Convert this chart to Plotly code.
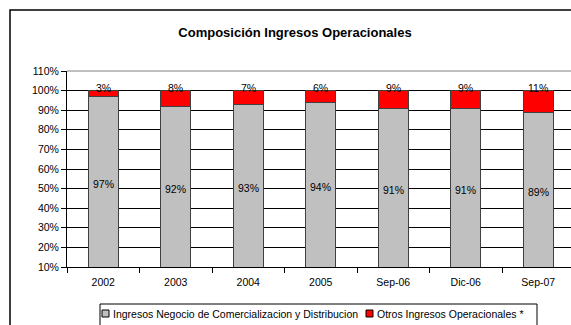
import plotly.graph_objects as go

categories = ["2002", "2003", "2004", "2005", "Sep-06", "Dic-06", "Sep-07"]
negocio = [97, 92, 93, 94, 91, 91, 89]
otros = [3, 8, 7, 6, 9, 9, 11]
y_ticks = list(range(10, 111, 10))

series_names = ["Ingresos Negocio de Comercializacion y Distribucion",
                "Otros Ingresos Operacionales *"]
series_colors = ["#C0C0C0", "#FF0000"]

Y_MIN, Y_MAX = 10, 110
W, H = 571, 325
L, R, T, B = 67, 0, 71, 58
plot_w = W - L - R
plot_h = H - T - B
font = "Liberation Sans, Arial, sans-serif"
fs = 10.5
edge = "#404040"


def px_x(px):
    return (px - L) / plot_w


def px_y(py):
    return (H - B - py) / plot_h


fig = go.Figure()
for vals, name, col in zip([negocio, otros], series_names, series_colors):
    fig.add_trace(go.Bar(
        x=categories, y=vals, name=name, showlegend=False,
        marker=dict(color=col, line=dict(color=edge, width=1)),
        width=0.41,
    ))

# value labels: grey share centred in the visible part of its bar, red share at the bar top
for i, (g, o) in enumerate(zip(negocio, otros)):
    fig.add_annotation(x=i, y=(Y_MIN + g) / 2, text=f"{g}%", showarrow=False,
                       font=dict(size=fs, color="black", family=font), yanchor="middle", yshift=-2)
    fig.add_annotation(x=i, y=g + o, text=f"{o}%", showarrow=False,
                       font=dict(size=fs, color="black", family=font), yanchor="middle", yshift=3)

# outer chart frame
fig.add_shape(type="rect", xref="paper", yref="paper",
              x0=px_x(10), x1=1.5, y0=-1.0, y1=px_y(10),
              line=dict(color="black", width=1.5), fillcolor="rgba(0,0,0,0)", layer="below")

# legend box with small square keys
fig.add_shape(type="rect", xref="paper", yref="paper",
              x0=px_x(100), x1=px_x(537), y0=px_y(340), y1=px_y(304),
              line=dict(color="black", width=1), fillcolor="white")
key_x = [102, 366]
for kx, name, col in zip(key_x, series_names, series_colors):
    fig.add_shape(type="rect", xref="paper", yref="paper",
                  x0=px_x(kx), x1=px_x(kx + 7), y0=px_y(317), y1=px_y(310),
                  line=dict(color="black", width=1), fillcolor=col)
    fig.add_annotation(xref="paper", yref="paper", x=px_x(kx + 9), y=px_y(313.5),
                       text=name, showarrow=False, xanchor="left", yanchor="middle",
                       font=dict(size=fs, color="black", family=font))

fig.update_layout(
    width=W, height=H,
    margin=dict(l=L, r=R, t=T, b=B),
    barmode="stack",
    paper_bgcolor="white", plot_bgcolor="white",
    font=dict(family=font, size=fs, color="black"),
    title=dict(text="<b>Composición Ingresos Operacionales</b>",
               x=295 / W, xanchor="center", y=1 - 32 / H, yanchor="middle",
               font=dict(size=13, family=font, color="black")),
    showlegend=False,
    xaxis=dict(type="category", range=[-0.5, -0.5 + plot_w / 72.5],
               showline=True, linecolor="black", linewidth=1,
               ticks="outside", tickson="boundaries", ticklen=5, tickcolor="black",
               showgrid=False, tickfont=dict(size=fs), ticklabelstandoff=5),
    yaxis=dict(range=[Y_MIN, Y_MAX], tickvals=y_ticks, ticktext=[f"{v}%" for v in y_ticks],
               showline=True, linecolor="black", linewidth=1,
               ticks="outside", ticklen=5, tickcolor="black",
               showgrid=True, gridcolor="black", gridwidth=1,
               tickfont=dict(size=fs), zeroline=False),
)
# grey top edge of the plot area
fig.add_shape(type="line", xref="paper", yref="paper", x0=0, x1=1, y0=1, y1=1,
              line=dict(color="#808080", width=1))

fig.write_html("out.html")
